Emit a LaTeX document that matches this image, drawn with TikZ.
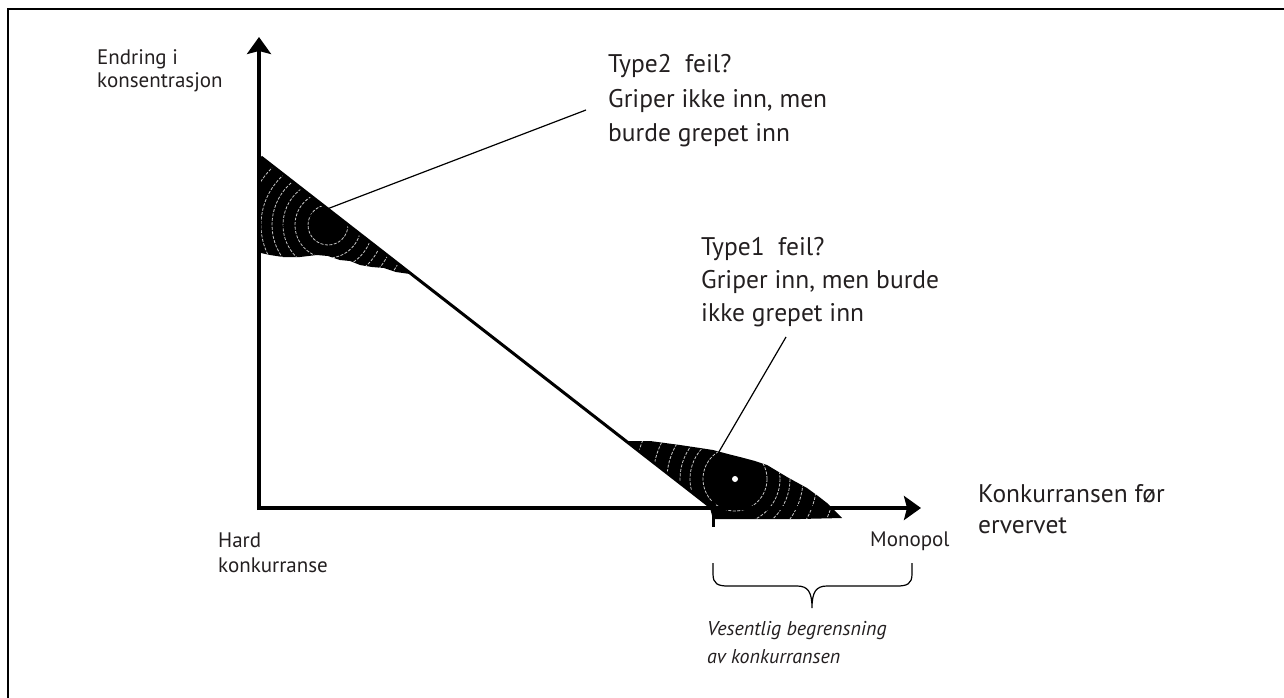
\documentclass[tikz,border=0pt]{standalone}
\usepackage{fontspec}
\setmainfont{PT Sans}
\usetikzlibrary{arrows.meta}
\definecolor{ink}{RGB}{35,31,32}
\begin{document}
\begin{tikzpicture}[x=1pt,y=-1pt,
  axis/.style={line width=4pt,-{Stealth[length=17pt,width=24pt,inset=3pt]}},
  callout/.style={line width=1.2pt},
  ripple/.style={gray!45,line width=0.8pt,dash pattern=on 3pt off 1.5pt},
  lbl/.style={anchor=base west,inner sep=0pt,text=ink,font=\fontsize{21}{23}\selectfont},
  big/.style={anchor=base west,inner sep=0pt,text=ink,font=\fontsize{25.5}{34}\selectfont},
  mid/.style={anchor=base west,inner sep=0pt,text=ink,font=\fontsize{25.5}{30}\selectfont},
  ital/.style={anchor=base west,inner sep=0pt,text=ink,font=\fontsize{20}{28}\selectfont\itshape}]
\useasboundingbox (0,0) rectangle (1284,698);
% frame
\draw[line width=2.7pt] (1284,9) -- (8,9) -- (8,698);
% coordinates
\coordinate (ytip) at (259,37);
\coordinate (xtip) at (921,508);
\coordinate (dtop) at (261,157);
\coordinate (dbot) at (712,508);
\coordinate (tick1) at (713,491);
\coordinate (tick2) at (713,527);
% blob 1
\begin{scope}
\clip (261,157) -- (410,274) -- (396,272) -- (384,268) -- (372,267) -- (360,265) -- (350,261) -- (340,260) -- (328,256) -- (317,255) -- (300,257) -- (283,257) -- (270,255) -- (261,253) -- cycle;
\fill (250,150) rectangle (420,280);
\foreach \r in {20,33,45,56,67,80} \draw[ripple] (328,225) circle[radius=\r];
\end{scope}
% blob 2
\begin{scope}
\clip (627,441) -- (650,441) -- (665,443) -- (680,445) -- (700,448) -- (713,450) -- (728,454) -- (740,457) -- (755,461) -- (767,465) -- (787,477) -- (807,488) -- (818,496) -- (827,503) -- (842,518) -- (800,519) -- (713,519) -- (710,508) -- cycle;
\fill (620,435) rectangle (850,525);
\foreach \r in {32,45,55,68,82,100} \draw[ripple] (735,479) circle[radius=\r];
\fill[white] (735,479) circle[radius=3];
\end{scope}
% axes
\draw[axis] (259,510) -- (ytip);
\draw[axis] (257,508) -- (xtip);
\draw[line width=3pt] (dtop) -- (dbot);
\draw[line width=3pt] (tick1) -- (tick2);
% labels
\node[lbl] (e1) at (97,65) {Endring i};
\node[lbl] (e2) at (97,88) {konsentrasjon};
\node[lbl] (h1) at (218,547) {Hard};
\node[lbl] (h2) at (218,572) {konkurranse};
\node[lbl] (mono) at (870,546) {Monopol};
\node[mid] (k1) at (978,502) {Konkurransen før};
\node[mid] (k2) at (978,533) {ervervet};
\node[big] (t2a) at (608,73) {Type2\ \ feil?};
\node[big] (t2b) at (608,107) {Griper ikke inn, men};
\node[big] (t2c) at (608,141) {burde grepet inn};
\node[big] (t1a) at (701,255) {Type1\ \ feil?};
\node[big] (t1b) at (701,288) {Griper inn, men burde};
\node[big] (t1c) at (701,321) {ikke grepet inn};
\node[ital] (v1) at (707,635) {Vesentlig begrensning};
\node[ital] (v2) at (707,663) {av konkurransen};
% callouts
\coordinate (c2s) at (280,227);
\coordinate (c2e) at (586,110);
\coordinate (c1s) at (713,462);
\coordinate (c1e) at (786,337);
\draw[callout] (c2s) -- (c2e);
\draw[callout] (c1s) -- (c1e);
% brace
\draw[line width=1.2pt] (713,563) -- (713,574) .. controls (713,584) and (718,586) .. (728,586) -- (797,586) .. controls (808,586) and (812,592) .. (812,608) .. controls (812,592) and (816,586) .. (827,586) -- (897,586) .. controls (907,586) and (912,584) .. (912,574) -- (912,563);
\end{tikzpicture}
\end{document}
